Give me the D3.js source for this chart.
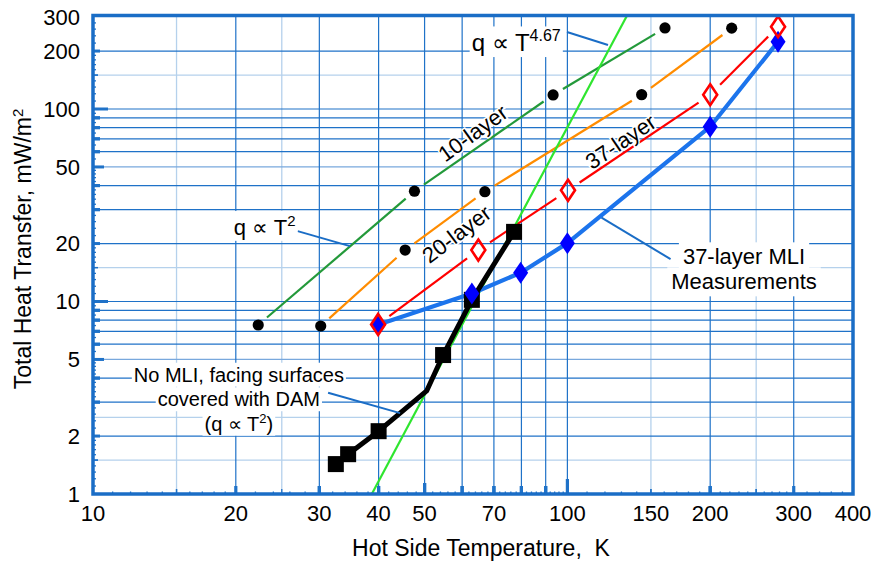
<!DOCTYPE html>
<html><head><meta charset="utf-8">
<script src="https://cdn.jsdelivr.net/npm/d3@7"></script>
<style>
html,body{margin:0;padding:0;background:#fff;}
svg{display:block;font-family:"Liberation Sans",Arial,Helvetica,sans-serif;}
</style></head><body>
<svg id="chart" width="877" height="563"></svg>
<script>
// ---- data ----
const xTickLabels = [10,20,30,40,50,70,100,150,200,300,400];
const yTickLabels = [1,2,5,10,20,50,100,200,300];
const xGridMajor = [20,30,40,50,60,70,80,90,100,200,300];
const xGridMinor = [15,25,150,250];
const yGridMajor = [2,3,4,6,7,8,9,10,20,30,40,60,70,80,90,100,200];
const yGridMid = [5,50];
const yGridMinor = [1.5,2.5,15,150];

const layer10T = [22.3,47.6,93.3,160.6];
const layer10Q = [7.55,37.4,118.3,263.6];
const layer20T = [30.2,45.5,67.0,143.4,222];
const layer20Q = [7.46,18.5,37.2,118.7,263];
const layer37T = [39.9,64.9,100.3,200,278];
const layer37Q = [7.6,18.5,37.8,118.6,267.6];
const measT = [40,62.9,79.7,100,200,278];
const measQ = [7.6,11.0,14.1,20.1,80.9,223.8];
const noMliT = [32.5,34.5,40,50.5,54.7,62.9,77.2];
const noMliQ = [1.43,1.61,2.12,3.43,5.27,10.2,23.0];
const noMliMarker = [1,1,1,0,1,1,1];
const powT = [38.7,133.6];
const powQ = [1,306];

// leader lines (data coords)
const leaderPowT = [99.8,121.8],  leaderPowQ = [251,215];
const leaderT2T  = [27.0,34.8],   leaderT2Q  = [23.2,19.4];
const leaderDamT = [31.3,44.4],   leaderDamQ = [3.36,2.63];
const leaderMeasT= [165,118],     leaderMeasQ= [16.6,27.3];

// ---- layout ----
const W=877,H=563, L=93,R=853,T=15.5,B=494;
const x=d3.scaleLog().domain([10,400]).range([L,R]);
const y=d3.scaleLog().domain([1,306]).range([B,T]);
const svg=d3.select('#chart');
svg.append('rect').attr('width',W).attr('height',H).attr('fill','#fff');

const gridC='#1f72c8', gridMid='#78a8dd', gridLight='#b5d1ec';
const grid=svg.append('g');
function vlines(vals,c,w){grid.selectAll(null).data(vals).enter().append('line')
  .attr('x1',d=>x(d)).attr('x2',d=>x(d)).attr('y1',T).attr('y2',B).attr('stroke',c).attr('stroke-width',w);}
function hlines(vals,c,w){grid.selectAll(null).data(vals).enter().append('line')
  .attr('y1',d=>y(d)).attr('y2',d=>y(d)).attr('x1',L).attr('x2',R).attr('stroke',c).attr('stroke-width',w);}
vlines(xGridMinor,gridLight,1.3); hlines(yGridMinor,gridLight,1.3);
hlines(yGridMid,gridMid,1.3);
vlines(xGridMajor,gridC,1.2); hlines(yGridMajor,gridC,1.2);

// ---- ticks ----
const xMinor=[], yMinor=[];
for(let v=11;v<20;v++) xMinor.push(v);
for(let v=22;v<100;v+=2) xMinor.push(v);
for(let v=110;v<300;v+=10) xMinor.push(v);
for(let v=320;v<400;v+=20) xMinor.push(v);
[1,10,100].forEach(d=>{
  for(let v=1.1;v<2;v+=0.1) yMinor.push(+(v*d).toFixed(3));
  for(let v=2.2;v<5;v+=0.2) yMinor.push(+(v*d).toFixed(3));
  for(let v=5.5;v<10;v+=0.5) yMinor.push(+(v*d).toFixed(3));
});
const tk=svg.append('g');
function xTickLen(v){ if(v===100) return 15; if(v===50) return 11; if([15,25,150,250].includes(v)) return 5;
  if(xGridMajor.includes(v)) return 8; return 2.5;}
function yTickLen(v){ if(v===10||v===100) return 15; if(v===5||v===50) return 11; if([1.5,15,150].includes(v)) return 5;
  if(yGridMajor.includes(v)) return 7; return 3;}
const xAllTicks = xMinor.concat(xGridMajor, xGridMinor).filter(v=>v<400);
tk.selectAll(null).data(xAllTicks).enter().append('line')
  .attr('x1',d=>x(d)).attr('x2',d=>x(d)).attr('y1',B).attr('y2',d=>B-xTickLen(d))
  .attr('stroke',gridC).attr('stroke-width',d=>xTickLen(d)>=8?3.2:1.3);
const yAllTicks = yMinor.concat(yGridMajor, yGridMid, [1.5,15,150]).filter(v=>v>1 && v<300);
tk.selectAll(null).data(yAllTicks).enter().append('line')
  .attr('y1',d=>y(d)).attr('y2',d=>y(d)).attr('x1',L).attr('x2',d=>L+yTickLen(d))
  .attr('stroke',gridC).attr('stroke-width',d=>yTickLen(d)>=7?3:1.3);

// ---- data marks ----
const plot=svg.append('g').attr('clip-path','url(#clip)');
svg.append('clipPath').attr('id','clip').append('rect').attr('x',L).attr('y',T).attr('width',R-L).attr('height',B-T);

function gapSegs(ts,qs,gap){
  const segs=[];
  for(let i=0;i<ts.length-1;i++){
    const x1=x(ts[i]),y1=y(qs[i]),x2=x(ts[i+1]),y2=y(qs[i+1]);
    const dx=x2-x1,dy=y2-y1,len=Math.hypot(dx,dy),ux=dx/len,uy=dy/len;
    segs.push([x1+ux*gap,y1+uy*gap,x2-ux*gap,y2-uy*gap]);
  }
  return segs;
}
function drawSegs(segs,c,w){
  plot.selectAll(null).data(segs).enter().append('line')
   .attr('x1',d=>d[0]).attr('y1',d=>d[1]).attr('x2',d=>d[2]).attr('y2',d=>d[3])
   .attr('stroke',c).attr('stroke-width',w);
}
const lineGen=d3.line().x(d=>x(d[0])).y(d=>y(d[1]));

drawSegs(gapSegs(layer10T,layer10Q,11.5),'#23993a',2.2);
drawSegs(gapSegs(layer20T,layer20Q,11.5),'#ff8c00',2.2);
drawSegs(gapSegs(layer37T,layer37Q,14),'#ff0000',2.2);

// power law line
plot.append('path').datum(d3.zip(powT,powQ)).attr('d',lineGen)
  .attr('fill','none').attr('stroke','#2fe52f').attr('stroke-width',2.2);

// measurements line
plot.append('path').datum(d3.zip(measT,measQ)).attr('d',lineGen)
  .attr('fill','none').attr('stroke','#1c74ec').attr('stroke-width',4.2).attr('stroke-linejoin','round');
// no MLI line
plot.append('path').datum(d3.zip(noMliT,noMliQ)).attr('d',lineGen)
  .attr('fill','none').attr('stroke','#000').attr('stroke-width',5).attr('stroke-linejoin','round');

// dots
const dots = d3.zip(layer10T,layer10Q).concat(d3.zip(layer20T,layer20Q));
plot.selectAll(null).data(dots).enter().append('circle')
  .attr('cx',d=>x(d[0])).attr('cy',d=>y(d[1])).attr('r',5.6).attr('fill','#000');
// squares
const sq = d3.zip(noMliT,noMliQ,noMliMarker).filter(d=>d[2]);
plot.selectAll(null).data(sq).enter().append('rect')
  .attr('x',d=>x(d[0])-8).attr('y',d=>y(d[1])-8).attr('width',16).attr('height',16).attr('fill','#000');
// diamonds
const dia='M0,-11L7.5,0L0,11L-7.5,0Z';
plot.selectAll(null).data(d3.zip(measT,measQ)).enter().append('path')
  .attr('d',dia).attr('transform',d=>`translate(${x(d[0])},${y(d[1])})`).attr('fill','#0000ff');
plot.selectAll(null).data(d3.zip(layer37T,layer37Q)).enter().append('path')
  .attr('d','M0,-10.5L7,0L0,10.5L-7,0Z').attr('transform',d=>`translate(${x(d[0])},${y(d[1])})`)
  .attr('fill','none').attr('stroke','#ff0000').attr('stroke-width',2.6);

// ---- frame ----
svg.append('rect').attr('x',L).attr('y',T).attr('width',R-L).attr('height',B-T)
  .attr('fill','none').attr('stroke','#1a6dc6').attr('stroke-width',3.5);

// ---- tick labels ----
svg.append('g').selectAll(null).data(xTickLabels).enter().append('text')
  .attr('x',d=>x(d)).attr('y',521).attr('text-anchor','middle').attr('font-size',22).text(d=>d);
svg.append('g').selectAll(null).data(yTickLabels).enter().append('text')
  .attr('x',80).attr('y',d=>y(d)).attr('dy','0.36em').attr('text-anchor','end').attr('font-size',22).text(d=>d);

// axis titles
svg.append('text').attr('x',481).attr('y',556).attr('text-anchor','middle').attr('font-size',23)
  .text('Hot Side Temperature,\u00a0 K');
const yt=svg.append('text').attr('transform','translate(31,249) rotate(-90)').attr('text-anchor','middle').attr('font-size',23);
yt.append('tspan').text('Total Heat Transfer, mW/m');
yt.append('tspan').text('2').attr('font-size',15).attr('dy',-8);

// ---- leader lines ----
const ann=svg.append('g');
[[leaderPowT,leaderPowQ],[leaderT2T,leaderT2Q],[leaderDamT,leaderDamQ],[leaderMeasT,leaderMeasQ]].forEach(p=>{
  ann.append('path').datum(d3.zip(p[0],p[1])).attr('d',lineGen).attr('fill','none')
    .attr('stroke','#1a6dc6').attr('stroke-width',2);
});

// ---- boxed labels ----
function boxedText(lines,cxv,cyv,lh,size,pad){
  const grp=svg.append('g');
  const cx=x(cxv), by=y(cyv);
  lines.forEach((ln,i)=>{
    const t=grp.append('text').attr('x',cx).attr('y',by+i*lh).attr('text-anchor','middle').attr('font-size',size);
    ln.forEach(p=>{
      const ts=t.append('tspan').text(p.t);
      if(p.sup) ts.attr('font-size',Math.round(size*0.66)).attr('dy',-size*0.4);
      if(p.down) ts.attr('dy',size*0.4);
    });
    const bb=t.node().getBBox();
    grp.insert('rect','text').attr('x',bb.x-pad).attr('y',bb.y-pad*0.5).attr('width',bb.width+2*pad).attr('height',bb.height+pad)
      .attr('fill','#fff');
  });
}
boxedText([[{t:'q \u221d T'},{t:'4.67',sup:1}]],78,200,0,24,2);
boxedText([[{t:'q \u221d T'},{t:'2',sup:1}]],23.0,22.2,0,22,2);
boxedText([[{t:'No MLI, facing surfaces'}],[{t:'covered with DAM'}],[{t:'(q \u221d T'},{t:'2',sup:1},{t:')',down:1}]],20.3,3.83,24.5,20,2);
boxedText([[{t:'37-layer MLI'}],[{t:'Measurements'}]],235.7,15.6,25,22,4);

// ---- rotated series labels ----
function rotLabel(txt,tv,qv,ang){
  svg.append('text').attr('transform',`translate(${x(tv)},${y(qv)}) rotate(${ang})`)
    .attr('text-anchor','middle').attr('dy','0.35em').attr('font-size',22)
    .attr('stroke','#fff').attr('stroke-width',3).attr('paint-order','stroke').attr('fill','#000').text(txt);
}
rotLabel('10-layer',63.2,75,-36);
rotLabel('20-layer',58.4,22.4,-37);
rotLabel('37-layer',129.5,67.6,-34);
</script>
</body></html>
